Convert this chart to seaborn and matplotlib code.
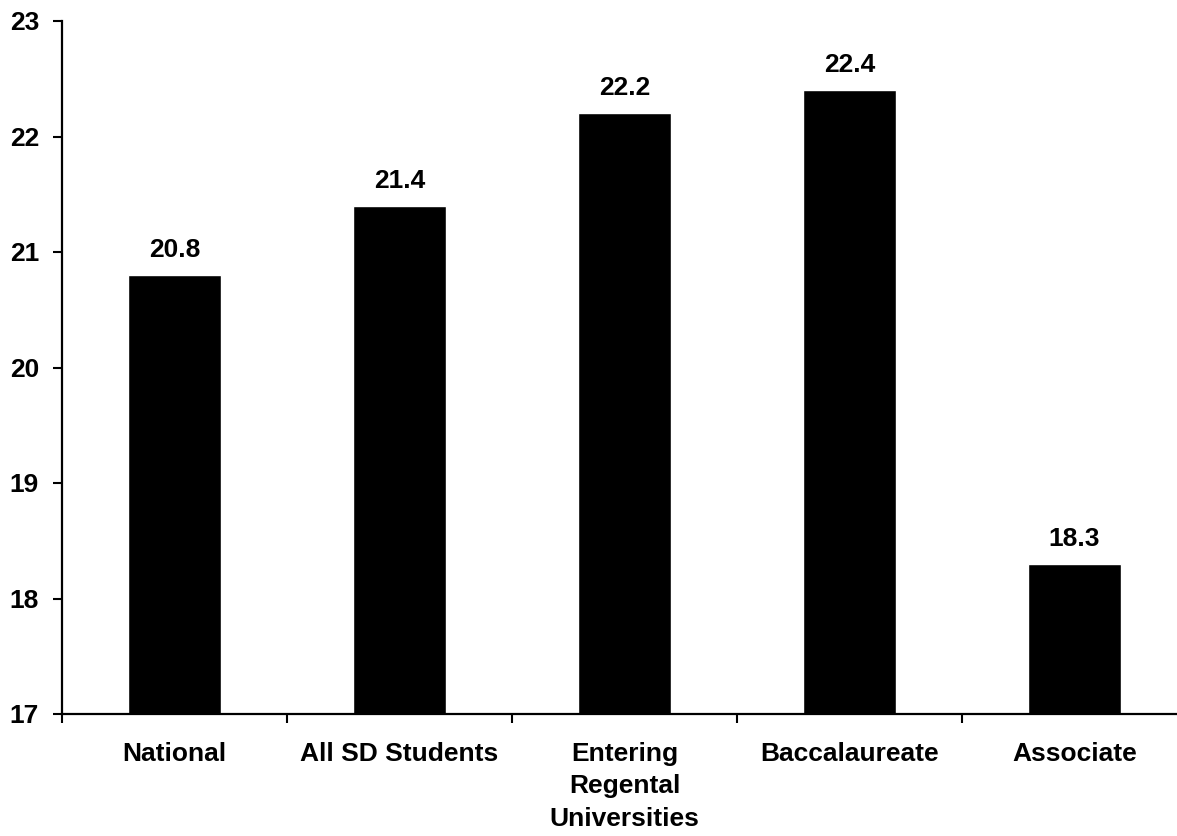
import matplotlib
matplotlib.use("Agg")
import matplotlib.pyplot as plt
import numpy as np
import pandas as pd
import seaborn as sns

categories = ["National", "All SD Students", "Entering\nRegental\nUniversities",
              "Baccalaureate", "Associate"]
scores = [20.8, 21.4, 22.2, 22.4, 18.3]
y_ticks = [17, 18, 19, 20, 21, 22, 23]

sns.set_style("white")
plt.rcParams["font.family"] = ["Liberation Sans", "DejaVu Sans"]
plt.rcParams["font.weight"] = "bold"
plt.rcParams["text.color"] = "black"
plt.rcParams["xtick.color"] = "black"
plt.rcParams["ytick.color"] = "black"

df = pd.DataFrame({"group": categories, "score": scores})

fig = plt.figure(figsize=(11.77, 8.36), dpi=100)
ax = fig.add_axes([62 / 1177, (836 - 714) / 836, 1125 / 1177, (714 - 21) / 836])

sns.barplot(data=df, x="group", y="score", color="black", width=0.41,
            saturation=1, ax=ax)

ax.set_ylim(17, 23)
ax.set_xlim(-0.5, 4.5)
ax.set_yticks(y_ticks)
ax.set_yticklabels([str(t) for t in y_ticks], fontsize=19, fontweight="bold")
ax.set_xticks(range(len(categories)))
ax.set_xticklabels(categories, fontsize=19, fontweight="bold", linespacing=1.45,
                   va="top")
ax.set_xticks(np.arange(-0.5, len(categories) + 0.5, 1), minor=True)
ax.tick_params(axis="x", which="major", length=0, pad=20)
ax.tick_params(axis="x", which="minor", length=6.5, width=1.5, direction="out",
               bottom=True)
ax.tick_params(axis="y", length=6.5, width=1.5, direction="out", left=True, pad=10)
ax.set_xlabel("")
ax.set_ylabel("")

for side in ["top", "right"]:
    ax.spines[side].set_visible(False)
for side in ["left", "bottom"]:
    ax.spines[side].set_linewidth(1.6)
    ax.spines[side].set_color("black")

for i, v in enumerate(scores):
    ax.annotate(f"{v:.1f}", xy=(i, v), xytext=(0, 13), textcoords="offset points",
                ha="center", va="baseline", fontsize=19, fontweight="bold")

fig.savefig("out.png", dpi=100)
